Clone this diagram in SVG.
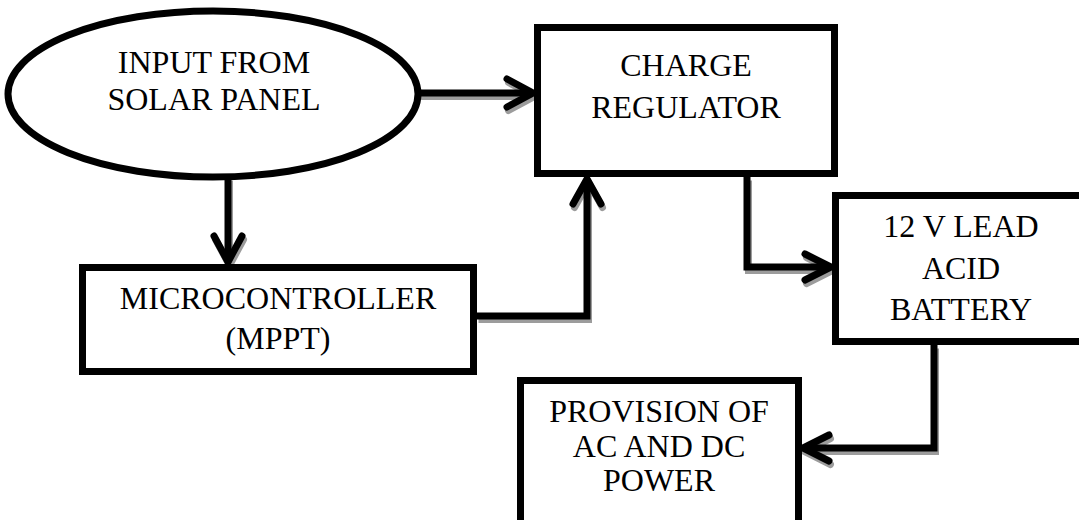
<svg xmlns="http://www.w3.org/2000/svg" width="1079" height="520" viewBox="0 0 1079 520">
  <style>
    .node { fill: #ffffff; stroke: #000000; stroke-width: 7; }
    .lbl { font-family: 'Liberation Serif', 'Times New Roman', Times, serif; font-size: 32px; fill: #000000; text-anchor: middle; }
    .wire { fill: none; stroke: #000000; stroke-width: 7; stroke-linejoin: miter; stroke-linecap: butt; }
    .head { fill: none; stroke: #000000; stroke-width: 7; stroke-linejoin: miter; stroke-linecap: round; }
    .shadow .wire, .shadow .head { stroke: #9c9c9c; }
  </style>
  <rect x="0" y="0" width="1079" height="520" fill="#ffffff"/>

  <g id="connectors">
    <g class="shadow" transform="translate(1.5,3.5)">
      <path class="wire" d="M417,93 H532"/>
      <path class="head" d="M507,79 L533,93 L507,107"/>
      <path class="wire" d="M228,177 V262"/>
      <path class="head" d="M214,236 L228,262 L242,236"/>
      <path class="wire" d="M477,316 H587 V179"/>
      <path class="head" d="M573,204 L587,179 L601,204"/>
      <path class="wire" d="M747,177 V267 H830"/>
      <path class="head" d="M805,254 L831,267 L805,280"/>
      <path class="wire" d="M934,345 V448 H804"/>
      <path class="head" d="M829,435 L803,448 L829,461"/>
    </g>
    <g id="edge-panel-charge">
      <path class="wire" d="M417,93 H532"/>
      <path class="head" d="M507,79 L533,93 L507,107"/>
    </g>
    <g id="edge-panel-mcu">
      <path class="wire" d="M228,177 V262"/>
      <path class="head" d="M214,236 L228,262 L242,236"/>
    </g>
    <g id="edge-mcu-charge">
      <path class="wire" d="M477,316 H587 V179"/>
      <path class="head" d="M573,204 L587,179 L601,204"/>
    </g>
    <g id="edge-charge-battery">
      <path class="wire" d="M747,177 V267 H830"/>
      <path class="head" d="M805,254 L831,267 L805,280"/>
    </g>
    <g id="edge-battery-provision">
      <path class="wire" d="M934,345 V448 H804"/>
      <path class="head" d="M829,435 L803,448 L829,461"/>
    </g>
  </g>

  <g id="node-solar">
    <ellipse class="node" cx="213" cy="94" rx="205" ry="83"/>
    <text class="lbl" x="214" y="73">INPUT FROM</text>
    <text class="lbl" x="214" y="110">SOLAR PANEL</text>
  </g>

  <g id="node-charge">
    <rect class="node" x="537.5" y="27.5" width="297" height="146"/>
    <text class="lbl" x="686" y="76">CHARGE</text>
    <text class="lbl" x="686" y="118">REGULATOR</text>
  </g>

  <g id="node-mcu">
    <rect class="node" x="82.5" y="267.5" width="391" height="104"/>
    <text class="lbl" x="278" y="309">MICROCONTROLLER</text>
    <text class="lbl" x="278" y="349">(MPPT)</text>
  </g>

  <g id="node-battery">
    <rect class="node" x="835.5" y="195.5" width="254" height="146"/>
    <text class="lbl" x="961" y="237">12 V LEAD</text>
    <text class="lbl" x="961" y="279">ACID</text>
    <text class="lbl" x="961" y="320">BATTERY</text>
  </g>

  <g id="node-provision">
    <rect class="node" x="520.5" y="380.5" width="278" height="160"/>
    <text class="lbl" x="659" y="422">PROVISION OF</text>
    <text class="lbl" x="659" y="457">AC AND DC</text>
    <text class="lbl" x="659" y="491">POWER</text>
  </g>
</svg>
